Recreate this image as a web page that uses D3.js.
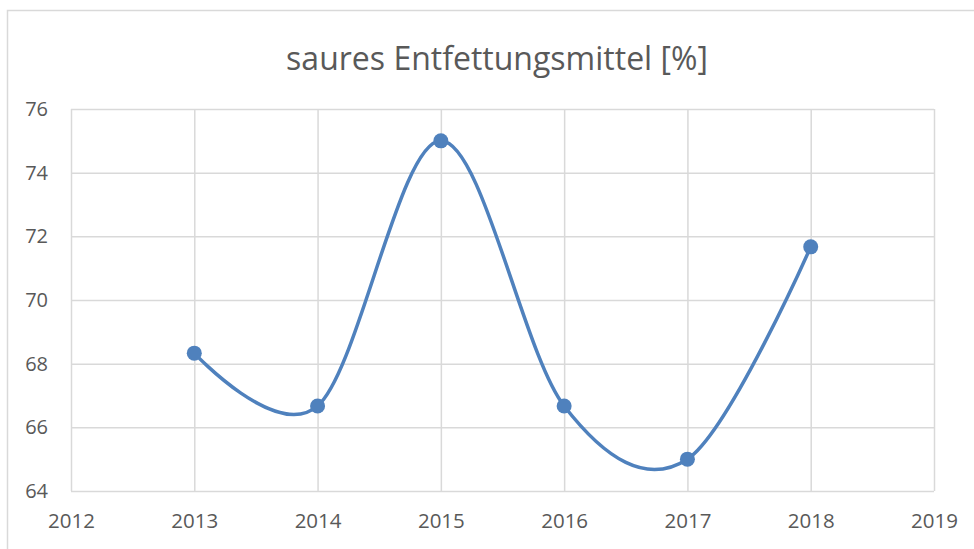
<!DOCTYPE html>
<html>
<head>
<meta charset="utf-8">
<script src="https://cdn.jsdelivr.net/npm/d3@7"></script>
<style>
  body { margin: 0; background: #fff; }
  svg { display: block; font-family: "Open Sans", sans-serif; }
</style>
</head>
<body>
<div id="chart"></div>
<script>
var years = [2013, 2014, 2015, 2016, 2017, 2018]
var values = [68.33, 66.67, 75, 66.67, 65, 71.67]
var xTicks = [2012, 2013, 2014, 2015, 2016, 2017, 2018, 2019]
var yTicks = [64, 66, 68, 70, 72, 74, 76]
var title = "saures Entfettungsmittel [%]"

var data = years.map(function (d, i) { return { year: d, value: values[i] } })

var W = 974, H = 549
var margin = { top: 109, right: 40, bottom: 58, left: 71 },
  width = W - margin.left - margin.right,
  height = H - margin.top - margin.bottom

var svg = d3.select("#chart").append("svg")
  .attr("width", W)
  .attr("height", H)

// chart frame
svg.append("rect")
  .attr("x", 7.5).attr("y", 10.5)
  .attr("width", 1000).attr("height", 600)
  .style("fill", "none")
  .style("stroke", "#d9d9d9")
  .style("stroke-width", 1.5)

svg.append("text")
  .attr("x", 497).attr("y", 57)
  .attr("text-anchor", "middle")
  .attr("dominant-baseline", "central")
  .style("font-size", "32px")
  .style("fill", "#595959")
  .text(title)

var x = d3.scaleLinear().domain([2012, 2019]).range([0, width])
var y = d3.scaleLinear().domain([64, 76]).range([height, 0])

var g = svg.append("g")
  .attr("transform", "translate(" + margin.left + "," + margin.top + ")")

// grid
g.append("g")
  .attr("class", "grid--y")
  .call(d3.axisLeft(y).tickValues(yTicks).tickSize(-width).tickFormat(""))
  .call(function (s) { s.select(".domain").remove() })
  .selectAll("line").style("stroke", "#d9d9d9").style("stroke-width", 1.5)

g.append("g")
  .attr("class", "grid--x")
  .attr("transform", "translate(0," + height + ")")
  .call(d3.axisBottom(x).tickValues(xTicks).tickSize(-height).tickFormat(""))
  .call(function (s) { s.select(".domain").remove() })
  .selectAll("line").style("stroke", "#d9d9d9").style("stroke-width", 1.5)

// axis labels
var yAxis = g.append("g")
  .call(d3.axisLeft(y).tickValues(yTicks).tickSize(0).tickPadding(23))
yAxis.select(".domain").remove()
yAxis.selectAll(".tick text")
  .style("font-family", "Open Sans").style("font-size", "20px").style("fill", "#595959")

var xAxis = g.append("g")
  .attr("transform", "translate(0," + height + ")")
  .call(d3.axisBottom(x).tickValues(xTicks).tickSize(0).tickPadding(22).tickFormat(d3.format("d")))
xAxis.select(".domain").remove()
xAxis.selectAll(".tick text")
  .style("font-family", "Open Sans").style("font-size", "20.5px").style("fill", "#595959")

// line
var line = d3.line()
  .x(function (d) { return x(d.year) })
  .y(function (d) { return y(d.value) })
  .curve(d3.curveCatmullRom.alpha(0))

g.append("path")
  .datum(data)
  .attr("d", line)
  .style("fill", "none")
  .style("stroke", "#4f81bd")
  .style("stroke-width", 3.5)

g.selectAll(".dot").data(data)
  .enter().append("circle")
  .attr("class", "dot")
  .attr("cx", function (d) { return x(d.year) })
  .attr("cy", function (d) { return y(d.value) })
  .attr("r", 7.5)
  .style("fill", "#4f81bd")
</script>
</body>
</html>
